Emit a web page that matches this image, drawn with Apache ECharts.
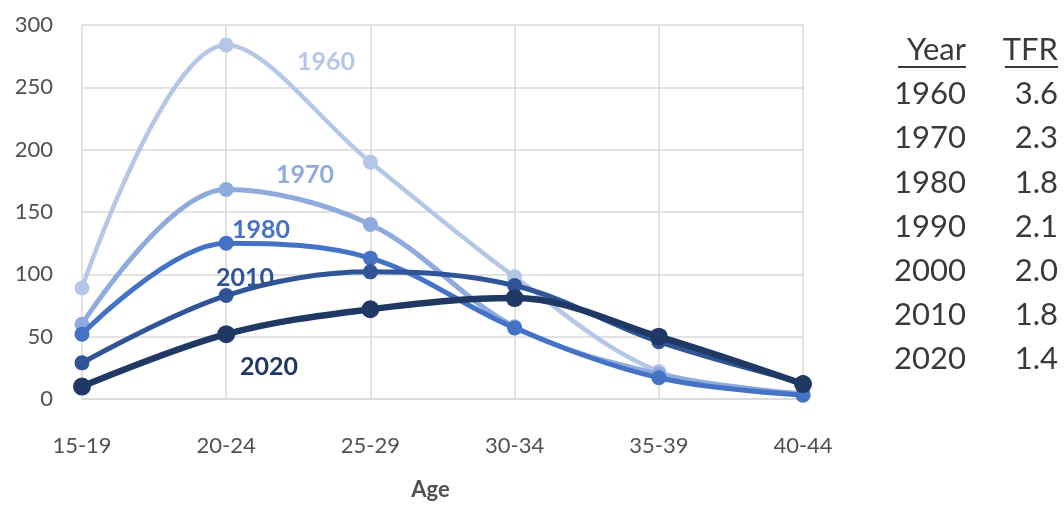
<!DOCTYPE html>
<html><head><meta charset="utf-8">
<script src="https://cdn.jsdelivr.net/npm/echarts@6/dist/echarts.min.js"></script>
<style>html,body{margin:0;padding:0;background:#fff}#c{width:1064px;height:506px}</style>
</head><body><div id="c"></div>
<script>
var ages = ['15-19','20-24','25-29','30-34','35-39','40-44'];
var yearNames = ['1960','1970','1980','2010','2020'];
var v1960 = [89, 284, 190, 98, 22, 5];
var v1970 = [60, 168, 140, 58, 20, 4];
var v1980 = [52, 125, 113, 57, 17, 3];
var v2010 = [29, 83, 102, 91, 46, 13];
var v2020 = [10, 52, 72, 81, 50, 12];
var tableYears = ['1960','1970','1980','1990','2000','2010','2020'];
var tableTFR = ['3.6','2.3','1.8','2.1','2.0','1.8','1.4'];

var values = [v1960, v1970, v1980, v2010, v2020];
var colors = ['#b4c7e7','#8faadc','#4472c4','#2f5597','#1f3864'];
var widths = [4.5, 5, 5, 5, 6.5];
var sizes = [15, 15, 15, 15, 18];
var labelPos = [[326,62],[305,175],[261,230],[245,278],[269,367]];

var chart = echarts.init(document.getElementById('c'));
var series = values.map(function(d, i){
  return {
    name: yearNames[i], type: 'line', data: d, smooth: 0.35,
    symbol: 'circle', symbolSize: sizes[i],
    lineStyle: {color: colors[i], width: widths[i]},
    itemStyle: {color: colors[i]},
    z: 2 + i
  };
});
var graphics = yearNames.map(function(n, i){
  return {type:'text', x: labelPos[i][0], y: labelPos[i][1], z: 100,
    style:{text:n, fill: colors[i], font:'bold 25px Lato', align:'center', verticalAlign:'middle'}};
});
var font = 'Lato';
var tx1 = 966, tx2 = 1058, ty0 = 50, dy = 44.2;
var tcol = '#3a3a3a';
graphics.push({type:'text', x: tx1, y: ty0, style:{text:'Year', fill:tcol, font:'31px '+font, align:'right', verticalAlign:'middle'}});
graphics.push({type:'text', x: tx2, y: ty0, style:{text:'TFR', fill:tcol, font:'31px '+font, align:'right', verticalAlign:'middle'}});
graphics.push({type:'rect', shape:{x:898, y:66, width:68, height:2}, style:{fill:tcol}});
graphics.push({type:'rect', shape:{x:1005, y:66, width:53, height:2}, style:{fill:tcol}});
tableYears.forEach(function(y, i){
  graphics.push({type:'text', x: tx1, y: ty0 + dy*(i+1), style:{text:y, fill:tcol, font:'31px '+font, align:'right', verticalAlign:'middle'}});
  graphics.push({type:'text', x: tx2, y: ty0 + dy*(i+1), style:{text:tableTFR[i], fill:tcol, font:'31px '+font, align:'right', verticalAlign:'middle'}});
});

chart.setOption({
  animation: false,
  grid: {left: 82, right: 261, top: 25, bottom: 95, containLabel: false},
  xAxis: {
    type: 'category', data: ages, boundaryGap: false,
    name: 'Age', nameLocation: 'middle', nameGap: 80,
    nameTextStyle: {fontFamily: font, fontSize: 22, fontWeight: 'bold', color: '#505050', padding: [0, 24, 0, 0]},
    axisLine: {show: true, lineStyle: {color: '#d9d9d9', width: 1.5}},
    axisTick: {show: false},
    axisLabel: {fontFamily: font, fontSize: 22, color: '#505050', margin: 36},
    splitLine: {show: true, lineStyle: {color: '#d9d9d9', width: 1.5}}
  },
  yAxis: {
    type: 'value', min: 0, max: 300, interval: 50,
    axisLine: {show: false}, axisTick: {show: false},
    axisLabel: {fontFamily: font, fontSize: 22, color: '#505050', margin: 29},
    splitLine: {lineStyle: {color: '#d9d9d9', width: 1.5}}
  },
  series: series,
  graphic: graphics
});
</script></body></html>
